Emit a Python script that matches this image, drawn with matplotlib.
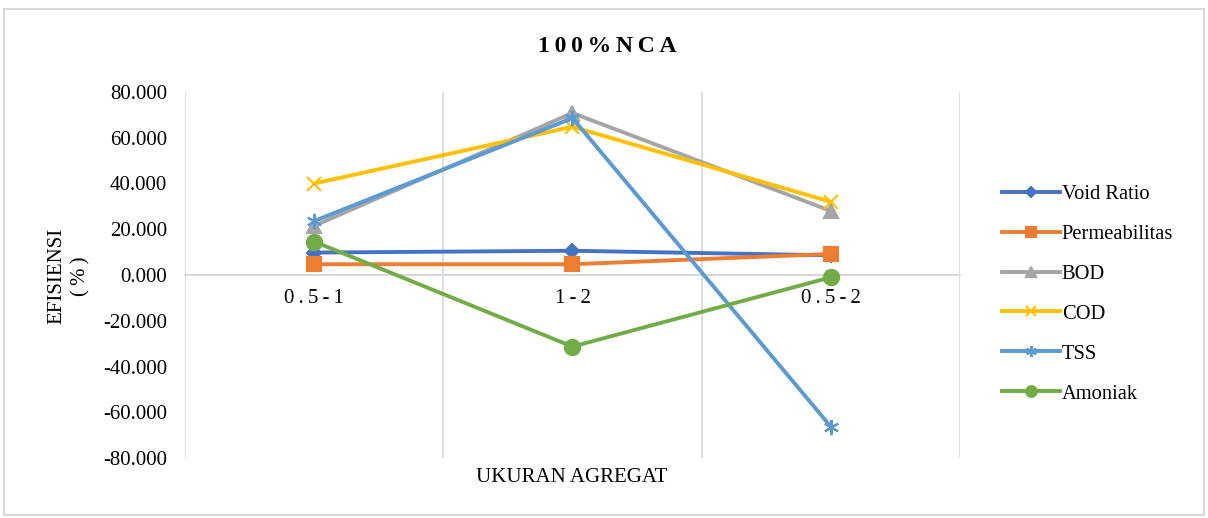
import numpy as np
import matplotlib
matplotlib.use('Agg')
from matplotlib import pyplot as plt
from matplotlib.patches import Rectangle
from matplotlib.ticker import FuncFormatter

TS = '\u2009'  # thin space used between characters of some labels

categories = ['0.5-1', '1-2', '0.5-2']
void_ratio = [9.8, 10.6, 8.6]
permeabilitas = [4.7, 4.7, 9.2]
bod = [21.5, 70.8, 28.0]
cod = [40.0, 64.8, 32.0]
tss = [23.6, 68.6, -66.3]
amoniak = [14.6, -31.3, -1.0]

series = [
	('Void Ratio', void_ratio, '#4472C4', 'D', 7),
	('Permeabilitas', permeabilitas, '#ED7D31', 's', 10),
	('BOD', bod, '#A5A5A5', '^', 10),
	('COD', cod, '#FFC000', 'x', 10),
	('TSS', tss, '#5B9BD5', (6, 2, 0), 11),
	('Amoniak', amoniak, '#70AD47', 'o', 11),
]

def spaced(s):
	return TS.join(s)

def main():
	plt.rcParams['font.family'] = ['Liberation Serif', 'DejaVu Serif']
	fig = plt.figure(figsize=(12.08, 5.18), dpi=100)
	fig.patches.append(Rectangle((4 / 1208, 3 / 518), 1200 / 1208, 506 / 518,
								 transform=fig.transFigure, fill=False,
								 edgecolor='#D9D9D9', lw=1.5))

	ax = fig.add_axes([185 / 1208, 1 - 458 / 518, 775 / 1208, 366 / 518])
	x = np.arange(len(categories))
	for name, vals, col, mk, ms in series:
		ax.plot(x, vals, color=col, lw=2.8, marker=mk, markersize=ms,
				markeredgecolor=col, markerfacecolor=col, markeredgewidth=1.5,
				label=name, zorder=3)

	ax.set_xlim(-0.5, 2.5)
	ax.set_ylim(-80, 80)
	ax.set_yticks(np.arange(-80, 81, 20))
	ax.yaxis.set_major_formatter(FuncFormatter(lambda v, p: f'{v:.3f}'))
	for xv in [-0.5, 0.5, 1.5, 2.5]:
		ax.axvline(xv, color='#D9D9D9', lw=1.2, zorder=1)

	for s in ['top', 'right', 'left']:
		ax.spines[s].set_visible(False)
	ax.spines['bottom'].set_position(('data', 0))
	ax.spines['bottom'].set_color('#D9D9D9')
	ax.spines['bottom'].set_linewidth(1.5)
	ax.set_xticks(x)
	ax.set_xticklabels([spaced(c) for c in categories])
	ax.tick_params(axis='x', length=0, pad=10, labelsize=15)
	ax.tick_params(axis='y', length=0, pad=13, labelsize=15)

	fig.text(69 / 1208, 1 - 276 / 518, 'EFISIENSI\n' + spaced('(%)'), rotation=90,
			 ha='center', va='center', fontsize=15, linespacing=1.3, multialignment='center')
	fig.text(572 / 1208, 1 - 478 / 518, 'UKURAN AGREGAT', ha='center', va='center', fontsize=15)
	fig.text(607 / 1208, 1 - 46 / 518, spaced('100%NCA'), ha='center', va='center',
			 fontsize=17, fontweight='bold')

	fig.legend(loc='center left', bbox_to_anchor=(992 / 1208, 1 - 294 / 518),
			   frameon=False, fontsize=14.8, handlelength=2.8, labelspacing=1.0,
			   handletextpad=0.1, borderpad=0, markerscale=0.7)

	fig.savefig('out.png', dpi=100)
	return None

if __name__ == '__main__':
	main()
